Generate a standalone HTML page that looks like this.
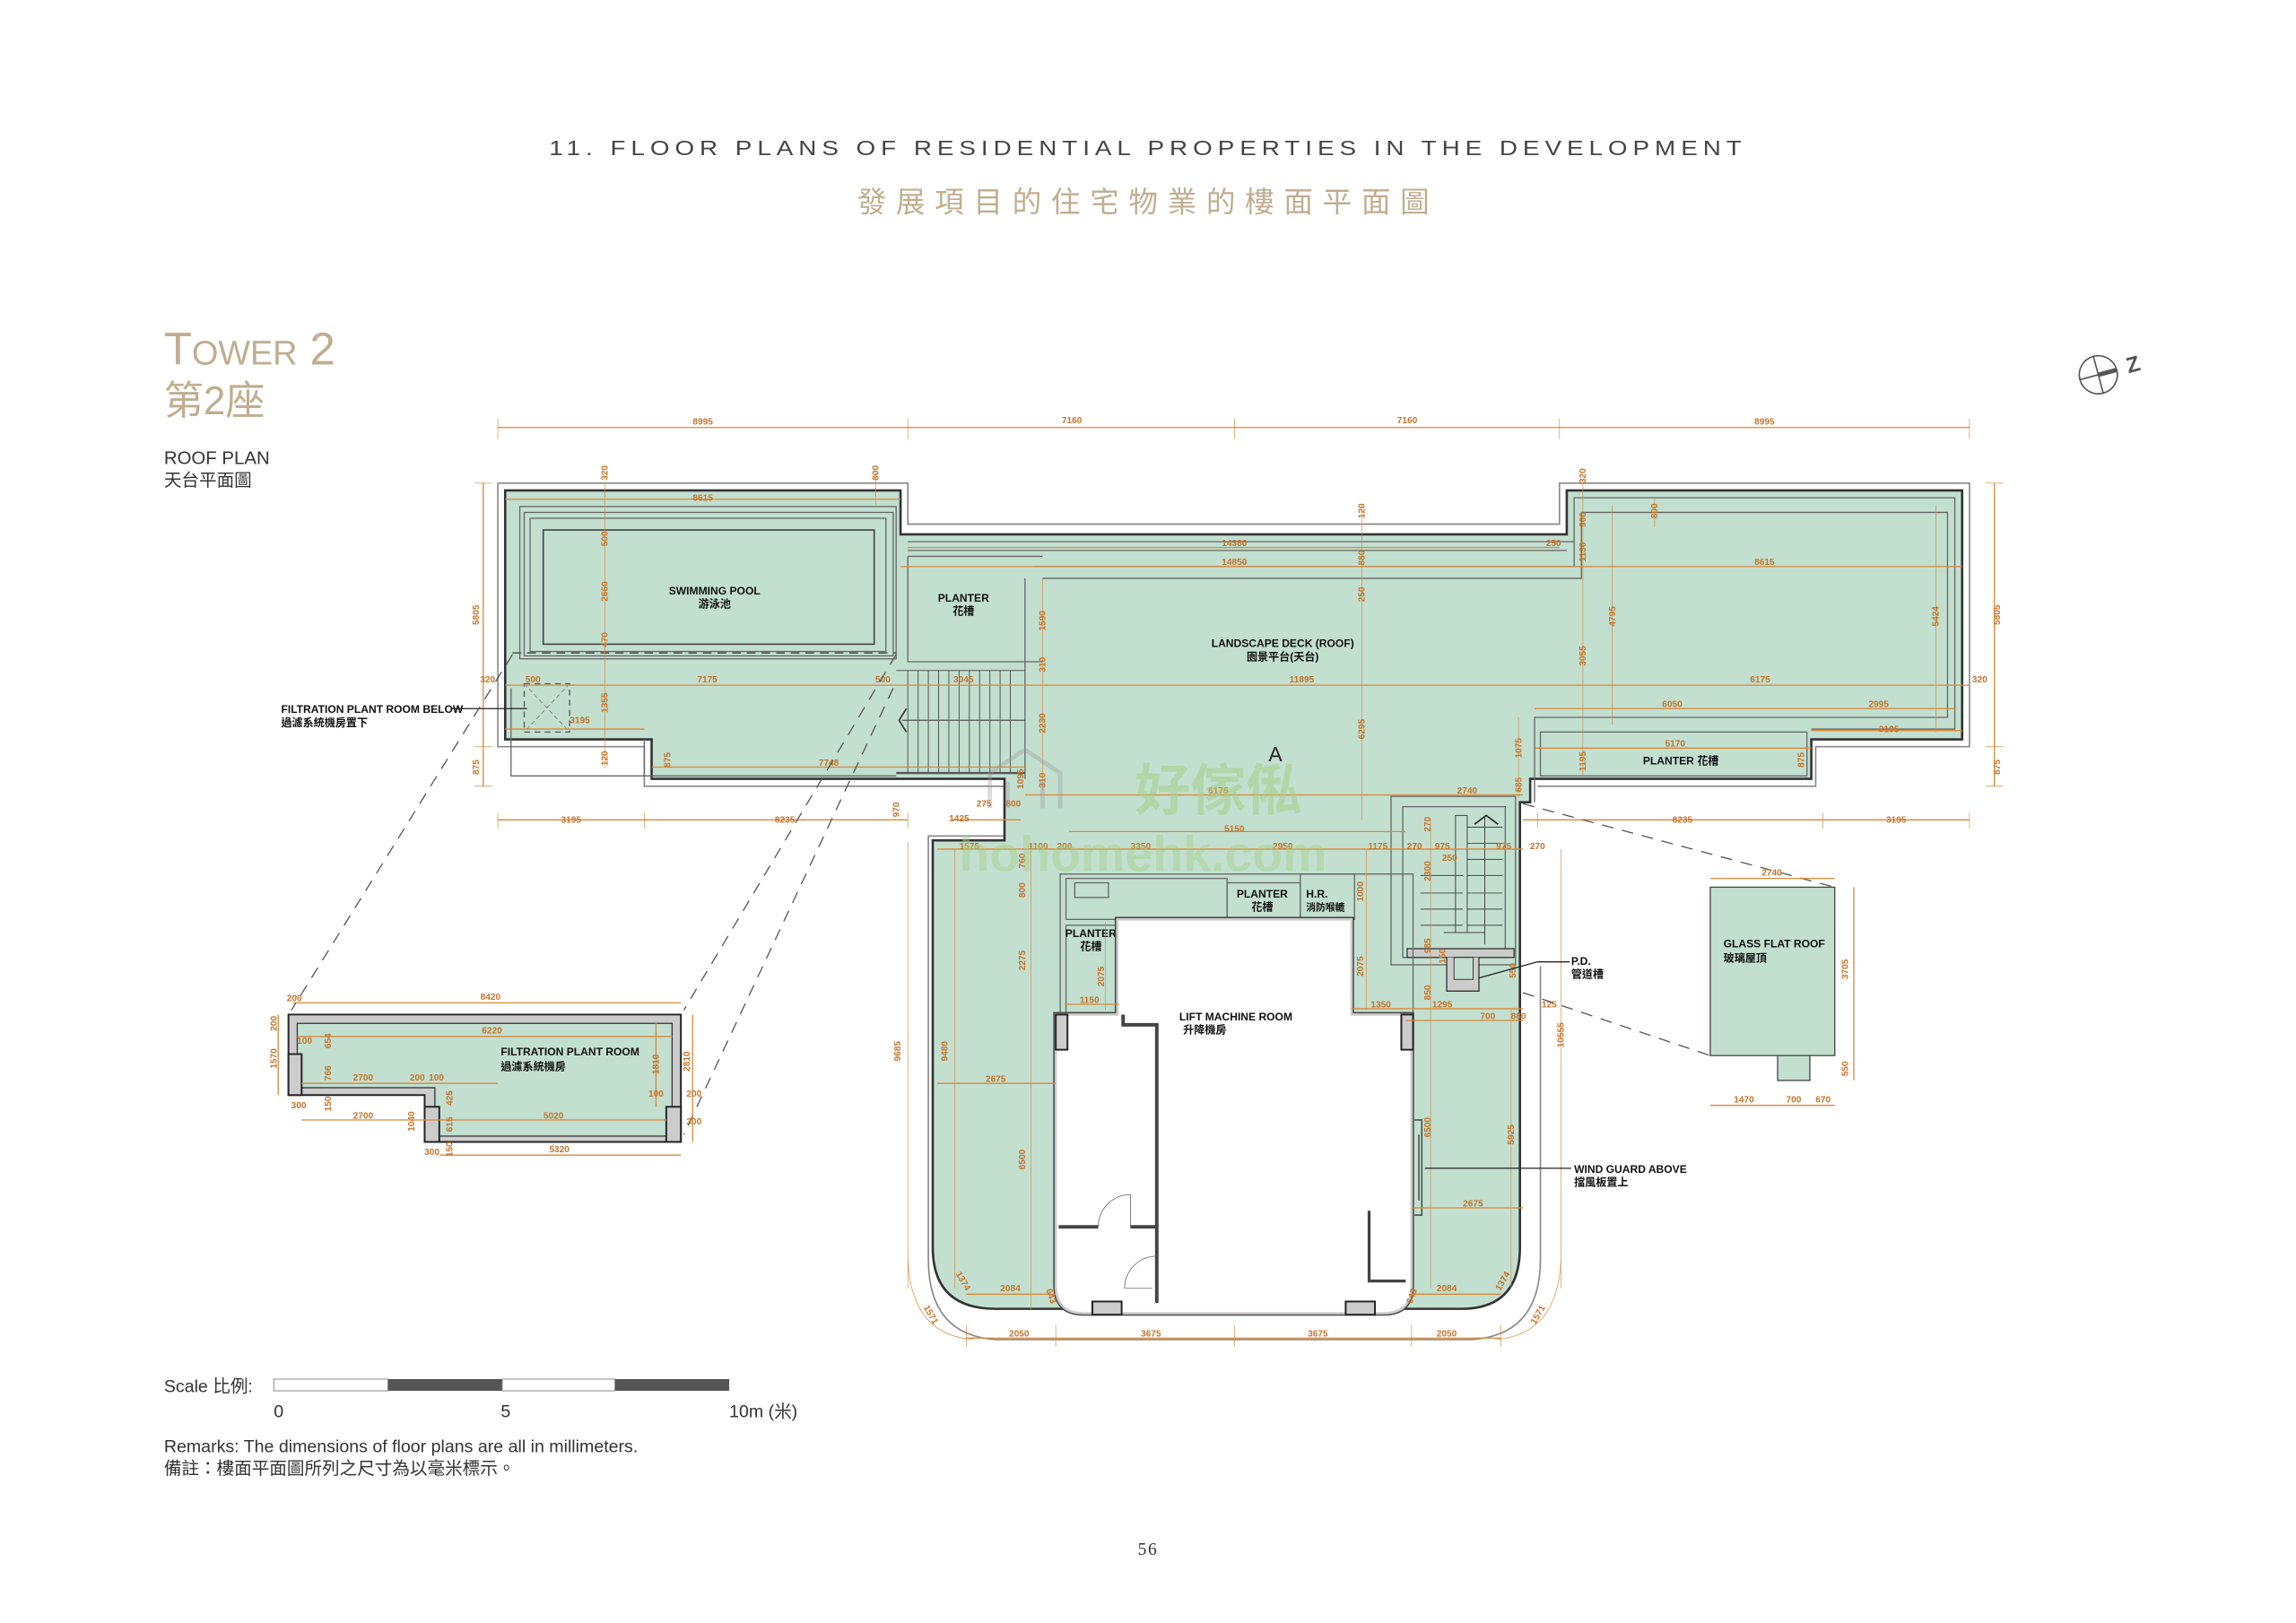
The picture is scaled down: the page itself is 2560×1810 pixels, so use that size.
<!DOCTYPE html>
<html><head><meta charset="utf-8">
<style>
html,body{margin:0;padding:0;background:#fff;}
svg{display:block;}
.d{font-family:"Liberation Sans",sans-serif;font-weight:bold;font-size:6.2px;fill:#c8742a;text-anchor:middle;}
.l{font-family:"Liberation Sans","Noto Sans CJK TC",sans-serif;font-weight:bold;font-size:7.4px;fill:#111;text-anchor:middle;}
.ll{font-family:"Liberation Sans","Noto Sans CJK TC",sans-serif;font-weight:bold;font-size:7.4px;fill:#111;}
.dl{stroke:#d9893a;stroke-width:0.8;fill:none;}
.th{stroke:#d9893a;stroke-width:0.4;fill:none;}
.w{stroke:#333;stroke-width:1.2;fill:none;}
.g{stroke:#666;stroke-width:0.8;fill:none;}
</style></head>
<body>
<svg width="2560" height="1810" viewBox="0 0 1568 1108.6" preserveAspectRatio="none" xmlns="http://www.w3.org/2000/svg">
<!-- Header -->
<text x="784" y="106" text-anchor="middle" textLength="818" lengthAdjust="spacingAndGlyphs" style="font-family:'Liberation Sans',sans-serif;font-size:14px;fill:#444;letter-spacing:3px">11. FLOOR PLANS OF RESIDENTIAL PROPERTIES IN THE DEVELOPMENT</text>
<text x="784" y="145" text-anchor="middle" style="font-family:'Liberation Sans','Noto Sans CJK TC',sans-serif;font-size:20px;fill:#bfae90;letter-spacing:6.5px">發展項目的住宅物業的樓面平面圖</text>
<text x="112" y="249" textLength="117" lengthAdjust="spacingAndGlyphs" style="font-family:'Liberation Sans',sans-serif;fill:#bfae90;font-size:31px"><tspan>T</tspan><tspan font-size="23">OWER</tspan><tspan> 2</tspan></text>
<text x="112" y="283" style="font-family:'Liberation Sans','Noto Sans CJK TC',sans-serif;fill:#bfae90;font-size:27px">第2座</text>
<text x="112" y="317" style="font-family:'Liberation Sans',sans-serif;fill:#333;font-size:12.5px">ROOF PLAN</text>
<text x="112" y="332" style="font-family:'Liberation Sans','Noto Sans CJK TC',sans-serif;fill:#333;font-size:12px">天台平面圖</text>
<!-- North -->
<g transform="rotate(-15 1433 256)" stroke="#555" stroke-width="1" fill="none">
<circle cx="1433" cy="256" r="13"/><line x1="1420" y1="256" x2="1446" y2="256"/><line x1="1433" y1="243" x2="1433" y2="269"/><line x1="1433" y1="256" x2="1446" y2="256" stroke-width="3"/>
</g>
<text x="1457" y="254" transform="rotate(-15 1457 250)" style="font-family:'Liberation Sans',sans-serif;font-weight:bold;font-size:15px;fill:#555" text-anchor="middle">Z</text>

<!-- Top dim line -->
<line class="dl" x1="340" y1="292" x2="1345" y2="292"/>
<g class="th"><line x1="340" y1="286" x2="340" y2="300"/><line x1="620" y1="286" x2="620" y2="300"/><line x1="843" y1="286" x2="843" y2="300"/><line x1="1065" y1="286" x2="1065" y2="300"/><line x1="1345" y1="286" x2="1345" y2="300"/></g>
<text class="d" x="480" y="290">8995</text><text class="d" x="732" y="289">7160</text><text class="d" x="961" y="289">7160</text><text class="d" x="1205" y="290">8995</text>

<!-- Outer thin outline -->
<path d="M340,330 H620 V358 H1065 V330 H1345 V510 H1240 V537 H1050 M340,330 V510 H440 V537 H701 M695,537 V571 H634 V860 Q634,912 680,915 H1005 Q1052,912 1052,860 V660" stroke="#888" stroke-width="1" fill="none"/>

<!-- Main green -->
<path d="M345,335 H615 V365 H1070 V335 H1340 V505 H1237 V532 H1045 V548 H1038 V852 Q1038,894 998,894 H680 Q637,894 637,852 V574 H686 V532 H445 V505 H345 Z" fill="#c2dfd0" stroke="#333" stroke-width="1.6"/>

<!-- Pool -->
<rect x="355" y="346" width="257" height="104" class="g"/>
<rect x="358" y="350" width="252" height="98" class="g"/>
<rect x="362" y="354" width="243" height="91" class="g"/>
<rect x="371" y="362" width="226" height="78" fill="#c2dfd0" stroke="#444" stroke-width="1"/>
<line x1="350" y1="446" x2="612" y2="446" stroke="#555" stroke-width="1" stroke-dasharray="6,4"/>
<rect x="358" y="467" width="31" height="33" fill="none" stroke="#555" stroke-width="0.8" stroke-dasharray="4,3"/>
<path d="M358,467 L389,500 M389,467 L358,500" stroke="#777" stroke-width="0.5" stroke-dasharray="3,2"/>
<path d="M349,470 V530 H612" class="g"/>
<path d="M440,505 V530" class="g"/>
<text class="l" x="488" y="406">SWIMMING POOL</text><text class="l" x="488" y="415">游泳池</text>
<!-- planter left -->
<path d="M620,380 H712 M620,380 V452 H712" class="g"/>
<text class="l" x="658" y="411">PLANTER</text><text class="l" x="658" y="420">花槽</text>
<!-- middle strip lines -->
<line x1="620" y1="370" x2="1075" y2="370" class="g"/>
<line x1="620" y1="376" x2="1070" y2="376" class="g"/>
<path d="M706,387 H1075 V340 H1335 V498 H1237" class="g"/>
<path d="M712,395 H1080 V350 H1330 V490 H1048 V548" class="g"/>
<line x1="700" y1="395" x2="700" y2="532" class="g"/>
<!-- stair left -->
<g stroke="#555" stroke-width="0.6">
<line x1="612" y1="458" x2="700" y2="458"/><line x1="612" y1="528" x2="700" y2="528" stroke-width="1.4"/>
<line x1="620" y1="458" x2="620" y2="528"/><line x1="627" y1="458" x2="627" y2="528"/><line x1="634" y1="458" x2="634" y2="528"/><line x1="641" y1="458" x2="641" y2="528"/><line x1="648" y1="458" x2="648" y2="528"/><line x1="655" y1="458" x2="655" y2="528"/><line x1="662" y1="458" x2="662" y2="528"/><line x1="669" y1="458" x2="669" y2="528"/><line x1="676" y1="458" x2="676" y2="528"/><line x1="683" y1="458" x2="683" y2="528"/><line x1="690" y1="458" x2="690" y2="528"/>
<line x1="616" y1="492" x2="700" y2="492" stroke-width="0.8"/>
</g>
<path d="M619,484 L614,492 L619,500" stroke="#333" stroke-width="1" fill="none"/>
<!-- right planter -->
<rect x="1052" y="500" width="182" height="30" class="g"/>
<text class="ll" x="1122" y="522">PLANTER  花槽</text>
<text class="l" x="876" y="442">LANDSCAPE DECK (ROOF)</text><text class="l" x="876" y="451">園景平台(天台)</text>
<text x="871" y="520" text-anchor="middle" style="font-family:'Liberation Sans',sans-serif;font-size:14px;fill:#222">A</text>

<!-- dims in top part -->
<g class="dl">
<line x1="345" y1="341" x2="615" y2="341"/>
<line x1="620" y1="374" x2="1065" y2="374"/>
<line x1="615" y1="387" x2="1340" y2="387"/>
<line x1="345" y1="468" x2="1345" y2="468"/>
<line x1="345" y1="498" x2="440" y2="498"/>
<line x1="445" y1="524" x2="700" y2="524"/>
<line x1="1048" y1="484" x2="1335" y2="484"/>
<line x1="1237" y1="499" x2="1340" y2="499"/>
<line x1="1048" y1="511" x2="1237" y2="511"/>
<line x1="700" y1="543" x2="1040" y2="543"/>
<line x1="340" y1="560" x2="620" y2="560"/><line x1="1040" y1="560" x2="1345" y2="560"/>
<line x1="330" y1="330" x2="330" y2="537"/><line x1="1362" y1="330" x2="1362" y2="537"/>
</g>
<g class="th">
<line x1="413" y1="330" x2="413" y2="525"/><line x1="598" y1="322" x2="598" y2="345"/>
<line x1="930" y1="345" x2="930" y2="560"/><line x1="1081" y1="330" x2="1081" y2="530"/><line x1="1101" y1="345" x2="1101" y2="495"/>
<line x1="712" y1="395" x2="712" y2="540"/><line x1="1130" y1="340" x2="1130" y2="360"/>
<line x1="1037" y1="490" x2="1037" y2="545"/><line x1="1322" y1="345" x2="1322" y2="500"/>
<line x1="340" y1="555" x2="340" y2="566"/><line x1="440" y1="555" x2="440" y2="566"/><line x1="620" y1="555" x2="620" y2="566"/><line x1="1050" y1="555" x2="1050" y2="566"/><line x1="1245" y1="555" x2="1245" y2="566"/><line x1="1345" y1="555" x2="1345" y2="566"/>
<line x1="324" y1="330" x2="336" y2="330"/><line x1="324" y1="510" x2="336" y2="510"/><line x1="324" y1="537" x2="336" y2="537"/>
<line x1="1356" y1="330" x2="1368" y2="330"/><line x1="1356" y1="510" x2="1368" y2="510"/><line x1="1356" y1="537" x2="1368" y2="537"/>
</g>
<g class="d">
<text x="480" y="342">8615</text><text x="333" y="466">320</text><text x="364" y="466">500</text><text x="483" y="466">7175</text><text x="603" y="466">500</text><text x="658" y="466">3045</text>
<text x="396" y="494">3195</text><text x="566" y="523">7748</text>
<text x="843" y="373">14380</text><text x="843" y="386">14850</text><text x="1061" y="373">250</text><text x="1205" y="386">8615</text>
<text x="889" y="466">11895</text><text x="1202" y="466">6175</text><text x="1352" y="466">320</text>
<text x="1142" y="483">6050</text><text x="1283" y="483">2995</text><text x="1290" y="500">3195</text><text x="1144" y="510">5170</text>
<text x="1002" y="542">2740</text><text x="832" y="542">6175</text>
<text x="390" y="562">3195</text><text x="536" y="562">8235</text><text x="1149" y="562">8235</text><text x="1295" y="562">3195</text>
</g>
<g class="d">
<text transform="rotate(-90 327 420)" x="327" y="420">5805</text><text transform="rotate(-90 327 524)" x="327" y="524">875</text>
<text transform="rotate(-90 1366 420)" x="1366" y="420">5805</text><text transform="rotate(-90 1366 524)" x="1366" y="524">875</text>
<text transform="rotate(-90 415 323)" x="415" y="323">320</text><text transform="rotate(-90 415 368)" x="415" y="368">500</text><text transform="rotate(-90 415 404)" x="415" y="404">2660</text><text transform="rotate(-90 415 437)" x="415" y="437">470</text><text transform="rotate(-90 415 480)" x="415" y="480">1355</text><text transform="rotate(-90 415 518)" x="415" y="518">120</text>
<text transform="rotate(-90 600 323)" x="600" y="323">800</text><text transform="rotate(-90 458 519)" x="458" y="519">875</text>
<text transform="rotate(-90 932 349)" x="932" y="349">120</text><text transform="rotate(-90 932 381)" x="932" y="381">880</text><text transform="rotate(-90 932 406)" x="932" y="406">250</text><text transform="rotate(-90 932 498)" x="932" y="498">6295</text>
<text transform="rotate(-90 714 424)" x="714" y="424">1590</text><text transform="rotate(-90 714 454)" x="714" y="454">310</text><text transform="rotate(-90 714 494)" x="714" y="494">2230</text><text transform="rotate(-90 714 533)" x="714" y="533">310</text>
<text transform="rotate(-90 1083 325)" x="1083" y="325">320</text><text transform="rotate(-90 1132 349)" x="1132" y="349">800</text><text transform="rotate(-90 1083 355)" x="1083" y="355">900</text><text transform="rotate(-90 1083 377)" x="1083" y="377">1130</text>
<text transform="rotate(-90 1103 421)" x="1103" y="421">4795</text><text transform="rotate(-90 1324 421)" x="1324" y="421">5424</text><text transform="rotate(-90 1083 448)" x="1083" y="448">3055</text>
<text transform="rotate(-90 1083 520)" x="1083" y="520">1195</text><text transform="rotate(-90 1039 511)" x="1039" y="511">1075</text><text transform="rotate(-90 1232 519)" x="1232" y="519">875</text><text transform="rotate(-90 1039 536)" x="1039" y="536">685</text>
<text transform="rotate(-90 614 553)" x="614" y="553">970</text><text transform="rotate(-90 699 532)" x="699" y="532">1095</text>
</g>

<!-- stair right -->
<rect x="950" y="544" width="85" height="115" class="g"/>
<rect x="958" y="551" width="70" height="103" class="g"/>
<g stroke="#444" stroke-width="0.6">
<line x1="1002" y1="565" x2="1026" y2="565"/><line x1="1002" y1="576" x2="1026" y2="576"/><line x1="1002" y1="587" x2="1026" y2="587"/><line x1="1002" y1="598" x2="1026" y2="598"/><line x1="1002" y1="610" x2="1026" y2="610"/><line x1="1002" y1="621" x2="1026" y2="621"/><line x1="1002" y1="632" x2="1026" y2="632"/>
<line x1="970" y1="598" x2="999" y2="598"/><line x1="970" y1="610" x2="999" y2="610"/><line x1="970" y1="621" x2="999" y2="621"/><line x1="970" y1="632" x2="999" y2="632"/>
<rect x="994" y="557" width="8" height="80" fill="none"/><line x1="1014" y1="557" x2="1014" y2="645"/><line x1="986" y1="637" x2="1014" y2="637"/>
</g>
<path d="M1007,563 L1015,557 L1023,563" stroke="#222" stroke-width="1" fill="none"/>
<rect x="961" y="648" width="73" height="6" fill="#ccc" stroke="#333" stroke-width="0.8"/>
<path d="M988,654 V677 H1010 V654" fill="#ccc" stroke="#333" stroke-width="0.8"/>
<rect x="993" y="654" width="13" height="15" fill="#c2dfd0" stroke="#333" stroke-width="0.6"/>
<!-- planters above LMR -->
<rect x="724" y="597" width="241" height="96" class="g"/>
<rect x="728" y="600" width="110" height="28" class="g"/>
<rect x="734" y="603" width="23" height="10" class="g"/>
<rect x="838" y="603" width="50" height="25" class="g"/><rect x="888" y="597" width="37" height="31" class="g"/>
<rect x="728" y="632" width="37" height="61" class="g"/>
<text class="l" x="862" y="613">PLANTER</text><text class="l" x="862" y="622">花槽</text>
<text class="ll" x="892" y="613">H.R.</text><text class="ll" x="892" y="622" style="font-size:6.6px">消防喉轆</text>
<text class="l" x="745" y="640">PLANTER</text><text class="l" x="745" y="649">花槽</text>
<!-- LMR -->
<path d="M763,628 H923 V693 H964 V878 Q964,897 945,897 H740 Q721,897 721,878 V693 H763 Z" fill="#fff" stroke="#444" stroke-width="3.4"/>
<path d="M763,628 H923 V693 H964 V878 Q964,897 945,897 H740 Q721,897 721,878 V693 H763 Z" fill="#fff" stroke="#ccc" stroke-width="1.6"/>
<path d="M767,693 V700 H790 V890" stroke="#444" stroke-width="2.4" fill="none"/>
<path d="M723,838 H750 M772,838 H790" stroke="#444" stroke-width="2.4"/>
<path d="M750,838 A22,22 0 0 1 772,816 V838" stroke="#666" stroke-width="0.5" fill="none"/>
<path d="M790,858 A22,22 0 0 0 768,880 H787" stroke="#666" stroke-width="0.5" fill="none"/>
<path d="M935,827 V875 H960" stroke="#444" stroke-width="2" fill="none"/>
<rect x="721" y="693" width="8" height="24" fill="#ccc" stroke="#222" stroke-width="1.2"/>
<rect x="957" y="693" width="8" height="24" fill="#ccc" stroke="#222" stroke-width="1.2"/>
<rect x="746" y="889" width="20" height="9" fill="#ccc" stroke="#222" stroke-width="1.2"/>
<rect x="919" y="889" width="20" height="9" fill="#ccc" stroke="#222" stroke-width="1.2"/>
<path d="M966,765 H971 V830 H966 M969,775 V820" stroke="#444" stroke-width="0.9" fill="none"/>
<text class="l" x="844" y="697">LIFT MACHINE ROOM</text><text class="ll" x="808" y="706">升降機房</text>
<!-- lower dims -->
<g class="dl">
<line x1="640" y1="580" x2="1040" y2="580"/><line x1="730" y1="568" x2="960" y2="568"/><line x1="650" y1="560" x2="697" y2="560"/>
<line x1="640" y1="740" x2="721" y2="740"/><line x1="964" y1="825" x2="1040" y2="825"/>
<line x1="727" y1="686" x2="764" y2="686"/><line x1="923" y1="689" x2="1040" y2="689"/><line x1="960" y1="697" x2="1040" y2="697"/>
<line x1="660" y1="884" x2="721" y2="884"/><line x1="964" y1="884" x2="1025" y2="884"/>
<line x1="660" y1="914" x2="1025" y2="914"/>
</g>
<g class="th">
<line x1="620" y1="575" x2="620" y2="880"/><line x1="652" y1="580" x2="652" y2="880"/><line x1="704" y1="580" x2="704" y2="895"/><line x1="933" y1="580" x2="933" y2="690"/><line x1="977" y1="560" x2="977" y2="880"/><line x1="1032" y1="690" x2="1032" y2="880"/><line x1="1066" y1="580" x2="1066" y2="880"/><line x1="755" y1="630" x2="755" y2="690"/>
<line x1="660" y1="905" x2="660" y2="920"/><line x1="721" y1="905" x2="721" y2="920"/><line x1="843" y1="905" x2="843" y2="920"/><line x1="964" y1="905" x2="964" y2="920"/><line x1="1025" y1="905" x2="1025" y2="920"/>
<path d="M620,860 Q622,912 665,915"/><path d="M1066,860 Q1064,912 1021,915"/>
</g>
<g class="d">
<text x="655" y="561">1425</text><text x="672" y="551">275</text><text x="692" y="551">800</text><text x="843" y="568">5150</text>
<text x="662" y="580">1575</text><text x="709" y="580">1100</text><text x="727" y="580">200</text><text x="779" y="580">3350</text><text x="876" y="580">2950</text><text x="941" y="580">1175</text><text x="966" y="580">270</text><text x="985" y="580">975</text><text x="1027" y="580">975</text><text x="1050" y="580">270</text><text x="990" y="588">250</text>
<text x="744" y="685">1150</text><text x="943" y="688">1350</text><text x="985" y="688">1295</text><text x="1016" y="696">700</text><text x="1037" y="696">880</text><text x="1058" y="688">125</text>
<text x="680" y="739">2675</text><text x="1006" y="824">2675</text>
<text x="690" y="882">2084</text><text x="988" y="882">2084</text>
<text x="696" y="913">2050</text><text x="786" y="913">3675</text><text x="900" y="913">3675</text><text x="988" y="913">2050</text>
<text transform="rotate(60 656 876)" x="656" y="876">1374</text><text transform="rotate(-60 1028 876)" x="1028" y="876">1374</text>
<text transform="rotate(60 634 899)" x="634" y="899">1571</text><text transform="rotate(-60 1052 899)" x="1052" y="899">1571</text>
<text transform="rotate(70 716 886)" x="716" y="886">643</text><text transform="rotate(-70 966 886)" x="966" y="886">643</text>
</g>
<g class="d">
<text transform="rotate(-90 700 588)" x="700" y="588">760</text><text transform="rotate(-90 700 608)" x="700" y="608">800</text><text transform="rotate(-90 931 609)" x="931" y="609">1000</text>
<text transform="rotate(-90 700 656)" x="700" y="656">2275</text><text transform="rotate(-90 754 667)" x="754" y="667">2075</text><text transform="rotate(-90 931 660)" x="931" y="660">2075</text>
<text transform="rotate(-90 977 563)" x="977" y="563">270</text><text transform="rotate(-90 977 595)" x="977" y="595">2300</text><text transform="rotate(-90 977 646)" x="977" y="646">985</text><text transform="rotate(-90 987 653)" x="987" y="653">150</text><text transform="rotate(-90 977 678)" x="977" y="678">850</text><text transform="rotate(-90 1035 663)" x="1035" y="663">550</text>
<text transform="rotate(-90 615 718)" x="615" y="718">9685</text><text transform="rotate(-90 647 718)" x="647" y="718">9480</text><text transform="rotate(-90 1068 707)" x="1068" y="707">10555</text>
<text transform="rotate(-90 700 792)" x="700" y="792">6500</text><text transform="rotate(-90 977 770)" x="977" y="770">6500</text><text transform="rotate(-90 1034 775)" x="1034" y="775">5925</text>
</g>
<!-- callouts -->
<path d="M1072,657 H1050 L1010,668" stroke="#222" stroke-width="0.8" fill="none"/>
<text class="ll" x="1073" y="659">P.D.</text><text class="ll" x="1073" y="668">管道槽</text>
<line x1="973" y1="798" x2="1073" y2="798" stroke="#222" stroke-width="0.8"/>
<text class="ll" x="1075" y="801">WIND GUARD ABOVE</text><text class="ll" x="1075" y="810">擋風板置上</text>
<line x1="308" y1="484" x2="360" y2="484" stroke="#222" stroke-width="0.8"/>
<text class="ll" x="192" y="487">FILTRATION PLANT ROOM BELOW</text><text class="ll" x="192" y="496">過濾系統機房置下</text>

<!-- dashed projections -->
<g stroke="#555" stroke-width="0.8" stroke-dasharray="8,6" fill="none">
<line x1="350" y1="447" x2="199" y2="690"/><line x1="612" y1="447" x2="467" y2="690"/><line x1="610" y1="470" x2="467" y2="775"/>
<line x1="1040" y1="549" x2="1253" y2="606"/><line x1="1040" y1="678" x2="1168" y2="721"/>
</g>

<!-- Filtration plant room -->
<path d="M197,693 H465 V780 H290 V748 H197 Z" fill="#ccc" stroke="#222" stroke-width="1.2"/>
<path d="M203,699 H459 V776 H297 V743 H203 Z" fill="#c2dfd0" stroke="#333" stroke-width="0.8"/>
<rect x="197" y="720" width="9" height="28" fill="#ccc" stroke="#222" stroke-width="1.2"/>
<rect x="290" y="756" width="10" height="24" fill="#ccc" stroke="#222" stroke-width="1.2"/>
<rect x="455" y="756" width="10" height="24" fill="#ccc" stroke="#222" stroke-width="1.2"/>
<g class="dl"><line x1="200" y1="685" x2="465" y2="685"/><line x1="203" y1="708" x2="459" y2="708"/><line x1="206" y1="740" x2="340" y2="740"/><line x1="206" y1="765" x2="300" y2="765"/><line x1="300" y1="765" x2="455" y2="765"/><line x1="300" y1="789" x2="465" y2="789"/><line x1="190" y1="693" x2="190" y2="748"/><line x1="473" y1="693" x2="473" y2="780"/><line x1="448" y1="699" x2="448" y2="756"/></g>
<g class="d">
<text x="201" y="684">200</text><text x="335" y="683">8420</text><text x="336" y="706">6220</text><text x="208" y="713">100</text>
<text x="248" y="738">2700</text><text x="285" y="738">200</text><text x="298" y="738">100</text><text x="248" y="764">2700</text><text x="378" y="764">5020</text><text x="382" y="787">5320</text>
<text x="204" y="757">300</text><text x="295" y="789">300</text><text x="448" y="749">100</text><text x="474" y="749">200</text><text x="474" y="768">300</text>
<text transform="rotate(-90 189 723)" x="189" y="723">1570</text><text transform="rotate(-90 471 725)" x="471" y="725">2810</text><text transform="rotate(-90 450 727)" x="450" y="727">1810</text>
<text transform="rotate(-90 189 699)" x="189" y="699">200</text><text transform="rotate(-90 226 711)" x="226" y="711">654</text><text transform="rotate(-90 226 733)" x="226" y="733">766</text><text transform="rotate(-90 226 754)" x="226" y="754">150</text>
<text transform="rotate(-90 283 766)" x="283" y="766">1040</text><text transform="rotate(-90 309 750)" x="309" y="750">425</text><text transform="rotate(-90 309 768)" x="309" y="768">615</text><text transform="rotate(-90 309 785)" x="309" y="785">150</text>
</g>
<text class="ll" x="342" y="721">FILTRATION PLANT ROOM</text><text class="ll" x="342" y="731">過濾系統機房</text>

<!-- Glass flat roof -->
<rect x="1168" y="606" width="85" height="115" fill="#c2dfd0" stroke="#444" stroke-width="0.8"/>
<rect x="1214" y="721" width="22" height="17" fill="#c2dfd0" stroke="#444" stroke-width="0.8"/>
<text class="ll" x="1177" y="647">GLASS FLAT ROOF</text><text class="ll" x="1177" y="657">玻璃屋頂</text>
<g class="dl"><line x1="1168" y1="600" x2="1253" y2="600"/><line x1="1266" y1="606" x2="1266" y2="738"/><line x1="1168" y1="755" x2="1253" y2="755"/></g>
<g class="d"><text x="1210" y="598">2740</text><text x="1191" y="753">1470</text><text x="1225" y="753">700</text><text x="1245" y="753">670</text>
<text transform="rotate(-90 1262 662)" x="1262" y="662">3705</text><text transform="rotate(-90 1262 730)" x="1262" y="730">550</text></g>

<!-- watermark -->
<path d="M676,552 V528 L700,512 L724,528 V552 M688,552 V534 M712,552 V534" stroke="#999" stroke-width="3" fill="none" opacity="0.35"/>
<text x="775" y="553" style="font-family:'Noto Sans CJK SC',sans-serif;font-size:38px;font-weight:bold;fill:#a8d08a;opacity:0.55">好傢俬</text>
<text x="655" y="595" style="font-family:'Liberation Sans',sans-serif;font-size:34px;font-weight:bold;fill:#a8d08a;opacity:0.45">hohomehk.com</text>

<!-- Scale -->
<text x="112" y="951" style="font-family:'Liberation Sans','Noto Sans CJK TC',sans-serif;font-size:12px;fill:#333">Scale 比例:</text>
<rect x="187" y="942" width="78" height="8" fill="#fff" stroke="#888" stroke-width="0.6"/>
<rect x="265" y="942" width="78" height="8" fill="#555"/>
<rect x="343" y="942" width="77" height="8" fill="#fff" stroke="#888" stroke-width="0.6"/>
<rect x="420" y="942" width="78" height="8" fill="#555"/>
<g style="font-family:'Liberation Sans','Noto Sans CJK TC',sans-serif;font-size:12px;fill:#333">
<text x="187" y="968">0</text><text x="342" y="968">5</text><text x="498" y="968">10m (米)</text>
<text x="112" y="992">Remarks: The dimensions of floor plans are all in millimeters.</text>
<text x="112" y="1007">備註：樓面平面圖所列之尺寸為以毫米標示。</text>
</g>
<text x="784" y="1062" text-anchor="middle" style="font-family:'Liberation Serif',serif;font-size:12px;fill:#333;letter-spacing:1px">56</text>
</svg>
</body></html>
